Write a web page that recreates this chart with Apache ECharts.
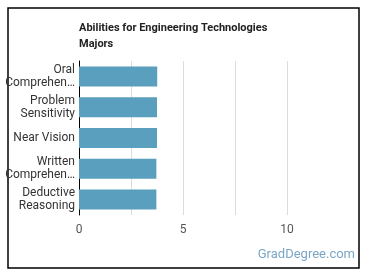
<!DOCTYPE html>
<html><head><meta charset="utf-8">
<script src="https://cdn.jsdelivr.net/npm/echarts@6/dist/echarts.min.js"></script>
<style>html,body{margin:0;padding:0;background:#fff}#c{width:370px;height:278px}</style>
</head><body><div id="c"></div>
<script>
const titleText = 'Abilities for Engineering Technologies\nMajors';
const categories = ['Oral\nComprehen…', 'Problem\nSensitivity', 'Near Vision', 'Written\nComprehen…', 'Deductive\nReasoning'];
const values = [3.76, 3.75, 3.75, 3.72, 3.72];
const tickLabels = ['0', '5', '10'];
const watermark = 'GradDegree.com';

const chart = echarts.init(document.getElementById('c'));
chart.setOption({
  animation: false,
  title: {
    text: titleText, left: 79, top: 20, padding: 0,
    textStyle: { fontFamily: 'Roboto', fontSize: 11, fontWeight: 'bold', color: '#222', lineHeight: 16 }
  },
  graphic: [
    { type: 'rect', shape: { x: 8, y: 8, width: 351, height: 260 }, style: { fill: 'none', stroke: '#000', lineWidth: 1.5 }, silent: true },
    { type: 'text', right: 15, top: 248, style: { text: watermark, fill: '#7aa6c6', font: '13px Roboto' } }
  ],
  grid: { left: 79, right: 31, top: 61, bottom: 63 },
  xAxis: {
    type: 'value', min: 0, max: 12.5, interval: 2.5,
    axisLine: { show: false }, axisTick: { show: false },
    axisLabel: {
      color: '#555', fontFamily: 'Roboto', fontSize: 12, margin: 9,
      formatter: function (v) { return tickLabels.indexOf(String(v)) >= 0 ? String(v) : ''; }
    },
    splitLine: { lineStyle: { color: ['#dcdcdc', '#dcdcdc', '#dcdcdc', '#dcdcdc', '#dcdcdc', 'rgba(0,0,0,0)'], width: 1 } }
  },
  yAxis: {
    type: 'category', data: categories, inverse: true,
    axisLine: { lineStyle: { color: '#000', width: 1 } }, axisTick: { show: false },
    axisLabel: { color: '#333', fontFamily: 'Roboto', fontSize: 12, lineHeight: 13, margin: 4, align: 'right' }
  },
  series: [{
    type: 'bar', data: values, barWidth: 20,
    itemStyle: { color: '#5a9fbd' }
  }]
});
</script></body></html>
